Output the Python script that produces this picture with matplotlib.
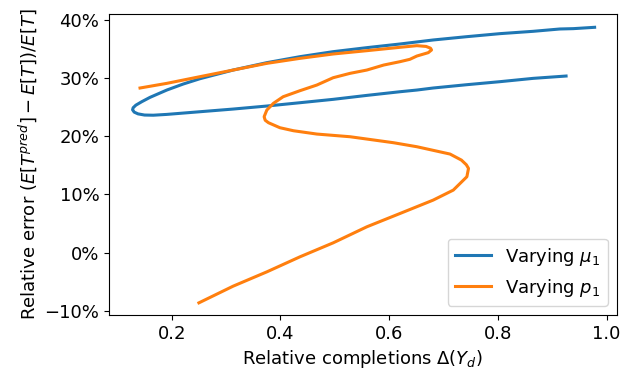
import matplotlib
matplotlib.use("Agg")
import matplotlib.pyplot as plt
from matplotlib.ticker import PercentFormatter

# Varying mu_1 (relative completions, relative error in %)
mu_x = [0.9255, 0.865, 0.804, 0.743, 0.681, 0.651, 0.620, 0.559, 0.497, 0.436,
        0.375, 0.313, 0.252, 0.191, 0.166, 0.150, 0.138, 0.131, 0.128, 0.129,
        0.134, 0.145, 0.160, 0.191, 0.221, 0.252, 0.313, 0.375, 0.436, 0.497,
        0.559, 0.620, 0.681, 0.743, 0.804, 0.865, 0.914, 0.939, 0.978]
mu_y = [30.36, 29.96, 29.39, 28.87, 28.30, 27.95, 27.66, 27.03, 26.35, 25.77,
        25.20, 24.68, 24.22, 23.76, 23.62, 23.65, 23.85, 24.15, 24.55, 24.90,
        25.35, 25.95, 26.69, 27.95, 28.98, 29.90, 31.39, 32.66, 33.69, 34.55,
        35.24, 35.87, 36.56, 37.13, 37.65, 38.05, 38.45, 38.51, 38.74]

# Varying p_1
p_x = [0.1417, 0.191, 0.252, 0.313, 0.375, 0.436, 0.497, 0.559, 0.620, 0.651,
       0.668, 0.676, 0.678, 0.672, 0.651, 0.638, 0.620, 0.590, 0.559, 0.528,
       0.497, 0.467, 0.436, 0.405, 0.387, 0.375, 0.370, 0.372, 0.378, 0.399,
       0.424, 0.467, 0.528, 0.608, 0.651, 0.712, 0.733, 0.742, 0.746, 0.743,
       0.718, 0.681, 0.620, 0.559, 0.497, 0.436, 0.375, 0.313, 0.250]
p_y = [28.30, 29.10, 30.25, 31.39, 32.54, 33.40, 34.15, 34.72, 35.30, 35.58,
       35.45, 35.15, 34.84, 34.38, 33.80, 33.23, 32.83, 32.25, 31.39, 30.82,
       30.07, 28.81, 27.84, 26.80, 25.66, 24.51, 23.36, 22.75, 22.33, 21.47,
       20.95, 20.38, 19.92, 18.89, 18.20, 16.94, 15.90, 15.10, 14.47, 13.04,
       10.74, 9.02, 6.72, 4.43, 1.67, -0.73, -3.32, -5.78, -8.65]

yticks = [-10, 0, 10, 20, 30, 40]
xticks = [0.2, 0.4, 0.6, 0.8, 1.0]

fig = plt.figure(figsize=(6.2, 3.75), dpi=100)
ax = fig.add_axes([0.1758, 0.16, 0.8192, 0.8027])
ax.plot(mu_x, mu_y, color='#1f77b4', lw=2.2, label=r'Varying $\mu_1$')
ax.plot(p_x, p_y, color='#ff7f0e', lw=2.2, label=r'Varying $p_1$')
ax.set_xlim(0.0846, 1.019)
ax.set_ylim(-10.74, 41.03)
ax.set_xticks(xticks)
ax.set_yticks(yticks)
ax.yaxis.set_major_formatter(PercentFormatter(100, decimals=0))
ax.set_xlabel(r'Relative completions $\Delta(Y_d)$', fontsize=13)
ax.set_ylabel(r'Relative error $(E[T^{pred}] - E[T])/E[T]$', fontsize=13)
ax.tick_params(labelsize=13)
ax.legend(loc='lower right', fontsize=13)
fig.savefig('out.png', dpi=100)
